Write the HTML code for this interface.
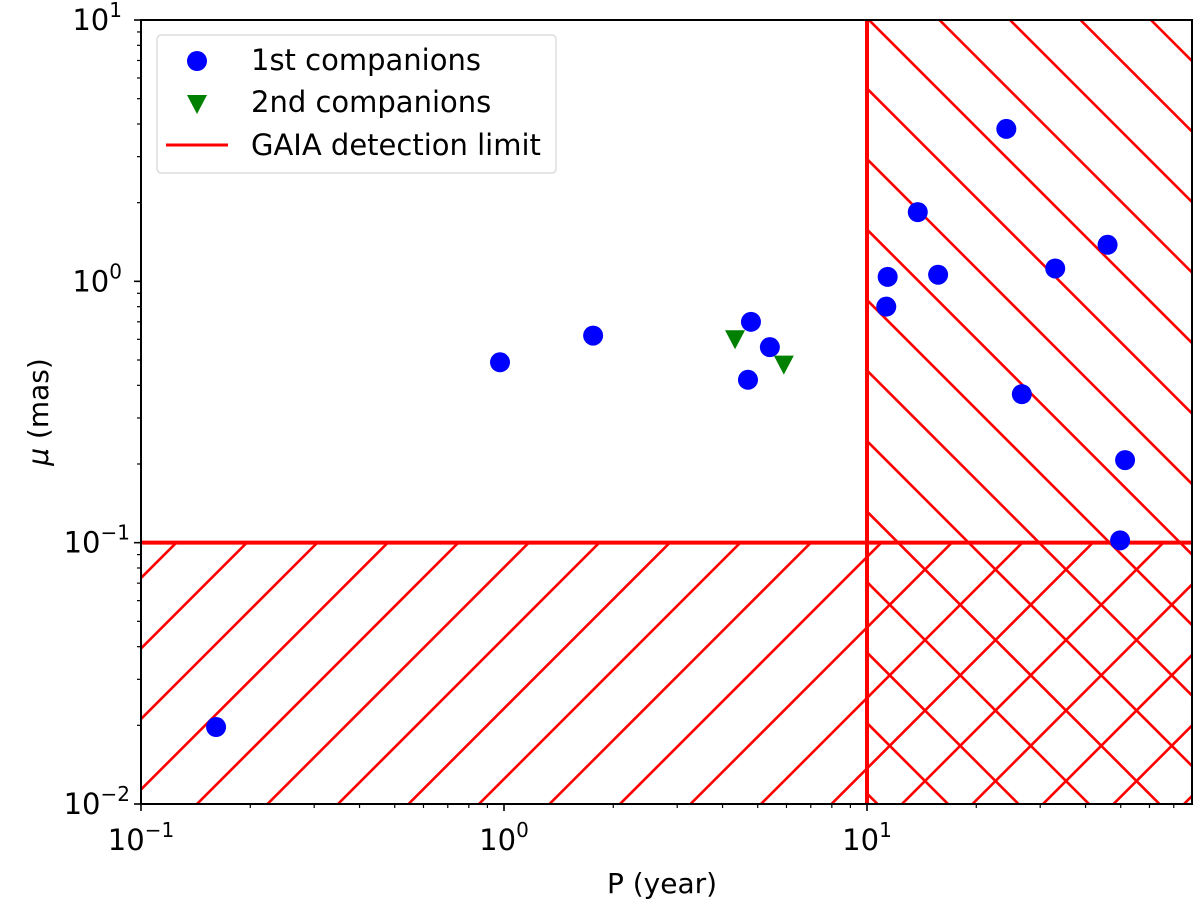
<!DOCTYPE html>
<html><head><meta charset="utf-8"><style>
html,body{margin:0;padding:0;background:#fff;overflow:hidden;width:1200px;height:903px;}
svg{display:block;}
svg text{font-family:"DejaVu Sans","Liberation Sans",sans-serif;fill:#000;}
</style></head><body>
<svg id="chart" width="1200" height="903" xmlns="http://www.w3.org/2000/svg">
<defs><clipPath id="plotclip"><rect x="141" y="20" width="1051" height="784"/></clipPath></defs>
<g id="hatch" clip-path="url(#plotclip)"></g>
<g id="limits" clip-path="url(#plotclip)"></g>
<g id="points"></g>
<rect x="141" y="20" width="1051" height="784" fill="none" stroke="#000" stroke-width="2"/>
<g id="axes"></g>
<text x="662" y="893" font-size="28" text-anchor="middle">P (year)</text>
<text transform="translate(48,412) rotate(-90)" font-size="28" text-anchor="middle"><tspan font-style="italic">μ</tspan> (mas)</text>
<g>
<rect x="157" y="35" width="399" height="138" rx="4" fill="#fff" stroke="#ddd" stroke-width="1.5"/>
<circle cx="197" cy="61" r="10" fill="#0000ff"/>
<text x="251" y="70" font-size="29">1st companions</text>
<path d="M187,95 L207,95 L197,114 Z" fill="#008000"/>
<text x="251" y="112" font-size="29">2nd companions</text>
<line x1="166" y1="145" x2="228" y2="145" stroke="#ff0000" stroke-width="3"/>
<text x="251" y="155" font-size="29">GAIA detection limit</text>
</g>
</svg>
<script>
const firstP=[0.161,0.975,1.76,4.79,4.70,5.4,11.4,11.3,13.8,15.7,24.2,26.7,33,46,51.4,49.8];
const firstMu=[0.0197,0.49,0.62,0.70,0.42,0.56,1.04,0.80,1.84,1.06,3.83,0.37,1.12,1.38,0.207,0.102];
const secondP=[4.33,5.9];
const secondMu=[0.60,0.48];
const limitP=10;
const limitMu=0.1;
const xTickExps=[-1,0,1];
const yTickExps=[-2,-1,0,1];

const NS="http://www.w3.org/2000/svg";
const L=141,R=1192,T=20,B=804;
const xMinLog=-1,xMaxLog=-1+(R-L)/363;
const yMinLog=-2,yMaxLog=1;
function xs(v){return L+(Math.log10(v)-xMinLog)/(xMaxLog-xMinLog)*(R-L);}
function ys(v){return B-(Math.log10(v)-yMinLog)/(yMaxLog-yMinLog)*(B-T);}
function mk(tag,attrs,parent){const e=document.createElementNS(NS,tag);for(const k in attrs)e.setAttribute(k,attrs[k]);parent.appendChild(e);return e;}

const hatch=document.getElementById('hatch');
const lx=xs(limitP),ly=ys(limitMu);
const cp1=mk('clipPath',{id:'c1'},hatch);
mk('rect',{x:L,y:ly,width:R-L,height:B-ly},cp1);
const cp2=mk('clipPath',{id:'c2'},hatch);
mk('rect',{x:lx,y:T,width:R-lx,height:B-T},cp2);
const g1=mk('g',{'clip-path':'url(#c1)'},hatch);


const per=70.5;
for(let c=1001-per*20;c<2400;c+=per){
  const ln=mk('line',{x1:c-1000,y1:1000,x2:c+100,y2:-100,stroke:'#ff0000','stroke-width':2.6},g1);
  
  
}
const g2=mk('g',{'clip-path':'url(#c2)'},hatch);


for(let c=144-per*20;c<1400;c+=per){
  const ln=mk('line',{x1:c-100,y1:-100,x2:c+1000,y2:1000,stroke:'#ff0000','stroke-width':2.6},g2);
  
  
}
const limits=document.getElementById('limits');
const hl=mk('line',{x1:L,y1:ly,x2:R,y2:ly,stroke:'#ff0000','stroke-width':4},limits);


const vl=mk('line',{x1:lx,y1:T,x2:lx,y2:B,stroke:'#ff0000','stroke-width':4},limits);



const pts=document.getElementById('points');
firstP.forEach((p,i)=>{
  const c=mk('circle',{cx:xs(p),cy:ys(firstMu[i]),r:10,fill:'#0000ff'},pts);
  
  
});
secondP.forEach((p,i)=>{
  const x=xs(p),y=ys(secondMu[i]);
  const t=mk('path',{d:`M${x-10},${y-9} L${x+10},${y-9} L${x},${y+10} Z`,fill:'#008000'},pts);
  
  
});

const axes=document.getElementById('axes');
for(let e=-2;e<=2;e++){
  for(let m=1;m<10;m++){
    const v=m*Math.pow(10,e);const x=xs(v);
    if(x<L-0.5||x>R+0.5)continue;
    const t=mk('line',{x1:x,y1:B,x2:x,y2:B+(m===1?7:4),stroke:'#000','stroke-width':m===1?1.6:1.2},axes);
    
    
  }
}
for(let e=-2;e<=1;e++){
  for(let m=1;m<10;m++){
    const v=m*Math.pow(10,e);const y=ys(v);
    if(y<T-0.5||y>B+0.5)continue;
    const t=mk('line',{x1:L,y1:y,x2:L-(m===1?7:4),y2:y,stroke:'#000','stroke-width':m===1?1.6:1.2},axes);
    
    
  }
}
xTickExps.forEach(e=>{
  const x=xs(Math.pow(10,e));
  const t=mk('text',{x:x,y:850,'font-size':29,'text-anchor':'middle'},axes);
  t.innerHTML=`10<tspan font-size="20" dy="-13">${e<0?'−'+(-e):e}</tspan>`;
  
  
});
yTickExps.forEach(e=>{
  const y=ys(Math.pow(10,e));
  const t=mk('text',{x:e<0?130:122,y:y+10,'font-size':29,'text-anchor':'end'},axes);
  t.innerHTML=`10<tspan font-size="20" dy="-13">${e<0?'−'+(-e):e}</tspan>`;
  
  
});
</script>
</body></html>
